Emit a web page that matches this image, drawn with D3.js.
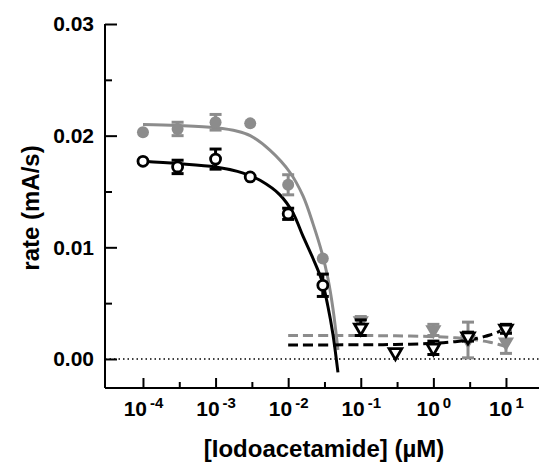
<!DOCTYPE html>
<html><head><meta charset="utf-8">
<script src="https://cdn.jsdelivr.net/npm/d3@7"></script>
<style>
html,body{margin:0;padding:0;background:#fff;}
text{font-family:"Liberation Sans",Arial,sans-serif;font-weight:bold;}
</style></head>
<body><svg id="c" width="539" height="462"></svg>
<script>
// ---- data ----
const circleX = [1e-4, 3e-4, 1e-3, 3e-3, 1e-2, 3e-2];
const grayCircleY = [0.0203, 0.0206, 0.0212, 0.0211, 0.0156, 0.0090];
const grayCircleErr = [0, 0.0006, 0.0007, 0, 0.0009, 0];
const blackCircleY = [0.0177, 0.0172, 0.0179, 0.0163, 0.0130, 0.0066];
const blackCircleErr = [0, 0.0006, 0.0009, 0, 0.0005, 0.0010];

const blackTriX = [0.1, 0.3, 1, 3, 10];
const blackTriY = [0.0028, 0.0006, 0.0010, 0.0020, 0.0027];
const blackTriErr = [0.0007, 0, 0.0006, 0.0004, 0.0004];
const grayTriX = [0.1, 1, 3, 10];
const grayTriY = [0.0034, 0.0026, 0.0017, 0.0015];
const grayTriErr = [0.0004, 0.0005, 0.0016, 0.0010];

const grayCurveX = [1e-4, 3e-4, 1e-3, 2e-3, 3e-3, 0.0056, 0.0106, 0.016, 0.022, 0.0292, 0.0353, 0.0414, 0.0485];
const grayCurveY = [0.0210, 0.0209, 0.0207, 0.0204, 0.0200, 0.0187, 0.0167, 0.0146, 0.0121, 0.0095, 0.0072, 0.0045, 0.0008];
const blackCurveX = [1e-4, 3e-4, 1e-3, 2e-3, 3e-3, 0.0041, 0.0077, 0.0116, 0.016, 0.022, 0.0292, 0.0353, 0.0414, 0.0485];
const blackCurveY = [0.0177, 0.0175, 0.0172, 0.0168, 0.0164, 0.0160, 0.0147, 0.0131, 0.0110, 0.0090, 0.0070, 0.0047, 0.0022, -0.0012];

const dashX = [0.01, 0.1, 0.3, 1, 2, 3, 4, 5, 6, 7, 8, 9, 10];
const blackDashY = [0.00125, 0.00127, 0.0013, 0.0014, 0.00155, 0.0017, 0.00185, 0.002, 0.00215, 0.0023, 0.00245, 0.0026, 0.00275];
const grayDashY = [0.0021, 0.0021, 0.00207, 0.002, 0.0019, 0.0018, 0.0017, 0.0016, 0.0015, 0.0014, 0.0013, 0.0012, 0.0011];

const yTicks = [0, 0.01, 0.02, 0.03];
const yTickLabels = ["0.00", "0.01", "0.02", "0.03"];
const yMinorTicks = [0.005, 0.015, 0.025];
const xTicks = [1e-4, 1e-3, 1e-2, 1e-1, 1, 10];
const xTickExp = ["-4", "-3", "-2", "-1", "0", "1"];
const xMinorTicks = [10**-3.5, 10**-2.5, 10**-1.5, 10**-0.5, 10**0.5];

const xLabel = "[Iodoacetamide] (µM)";
const yLabel = "rate (mA/s)";

// ---- drawing ----
const GRAY = "#8c8c8c";
const svg = d3.select("#c");
const x = d3.scaleLog().domain([10**-4.523, 10**1.455]).range([105, 539]);
const y = d3.scaleLinear().domain([-0.0026, 0.03]).range([388, 24]);

// zero dotted line
svg.append("line").attr("x1", x.range()[0]).attr("x2", x.range()[1])
  .attr("y1", y(0)).attr("y2", y(0))
  .attr("stroke", "#000").attr("stroke-width", 1.5).attr("stroke-dasharray", "1.5,3");

// axes
const yAxis = svg.append("g").attr("transform", `translate(${x.range()[0]},0)`)
  .call(d3.axisLeft(y).tickValues(yTicks).tickFormat((d, i) => yTickLabels[i]).tickSize(-12).tickPadding(11));
const yMinor = svg.append("g").attr("transform", `translate(${x.range()[0]},0)`)
  .call(d3.axisLeft(y).tickValues(yMinorTicks).tickFormat("").tickSize(-7));
const xAxis = svg.append("g").attr("transform", `translate(0,${y.range()[0]})`)
  .call(d3.axisBottom(x).tickValues(xTicks).tickFormat("").tickSize(-10));
const xMinor = svg.append("g").attr("transform", `translate(0,${y.range()[0]})`)
  .call(d3.axisBottom(x).tickValues(xMinorTicks).tickFormat("").tickSize(-6));
[yAxis, yMinor, xAxis, xMinor].forEach(g => {
  g.select(".domain").attr("stroke-width", 2);
  g.selectAll(".tick line").attr("stroke-width", 2);
});
xMinor.select(".domain").remove();
yMinor.select(".domain").remove();
yAxis.select(".domain").attr("d", `M0,${y.range()[0]}V${y.range()[1]}`);
xAxis.select(".domain").attr("d", `M${x.range()[0]},0H${x.range()[1]}`);
yAxis.selectAll(".tick text").attr("font-size", 21).attr("font-weight", "bold").attr("fill", "#000")
  .attr("font-family", '"Liberation Sans",Arial,sans-serif');

xAxis.selectAll(".tick").each(function(d, i) {
  const t = d3.select(this).append("text").attr("y", 28).attr("text-anchor", "middle")
    .attr("fill", "#000").attr("font-size", 21);
  t.append("tspan").text("10");
  t.append("tspan").attr("font-size", 15).attr("dy", -8).attr("dx", 3).text(xTickExp[i]);
});

svg.append("text").attr("x", 324).attr("y", 457).attr("text-anchor", "middle")
  .attr("font-size", 24).text(xLabel);
svg.append("text").attr("transform", "translate(39,208) rotate(-90)").attr("text-anchor", "middle")
  .attr("font-size", 24).text(yLabel);

// fit curves
const line = d3.line().x(d => x(d[0])).y(d => y(d[1])).curve(d3.curveCatmullRom.alpha(0.5));
svg.append("path").attr("d", line(d3.zip(grayCurveX, grayCurveY)))
  .attr("fill", "none").attr("stroke", GRAY).attr("stroke-width", 3);
svg.append("path").attr("d", line(d3.zip(dashX, grayDashY)))
  .attr("fill", "none").attr("stroke", GRAY).attr("stroke-width", 3).attr("stroke-dasharray", "10,5");
svg.append("path").attr("d", line(d3.zip(blackCurveX, blackCurveY)))
  .attr("fill", "none").attr("stroke", "#000").attr("stroke-width", 3);
svg.append("path").attr("d", line(d3.zip(dashX, blackDashY)))
  .attr("fill", "none").attr("stroke", "#000").attr("stroke-width", 3).attr("stroke-dasharray", "10,5");

function errBars(xs, ys, es, color) {
  const g = svg.append("g").attr("stroke", color).attr("stroke-width", 3);
  xs.forEach((xv, i) => {
    if (!es[i]) return;
    const cx = x(xv), y1 = y(ys[i] + es[i]), y2 = y(ys[i] - es[i]);
    g.append("line").attr("x1", cx).attr("x2", cx).attr("y1", y1).attr("y2", y2);
    g.append("line").attr("x1", cx - 6).attr("x2", cx + 6).attr("y1", y1).attr("y2", y1);
    g.append("line").attr("x1", cx - 6).attr("x2", cx + 6).attr("y1", y2).attr("y2", y2);
  });
}
const tri = d3.symbol().type(d3.symbolTriangle).size(70);

// gray series
errBars(circleX, grayCircleY, grayCircleErr, GRAY);
svg.append("g").selectAll("circle").data(d3.zip(circleX, grayCircleY)).join("circle")
  .attr("cx", d => x(d[0])).attr("cy", d => y(d[1])).attr("r", 6).attr("fill", GRAY);
errBars(grayTriX, grayTriY, grayTriErr, GRAY);
svg.append("g").selectAll("path").data(d3.zip(grayTriX, grayTriY)).join("path")
  .attr("d", tri).attr("transform", d => `translate(${x(d[0])},${y(d[1])}) rotate(180)`)
  .attr("fill", GRAY).attr("stroke", GRAY).attr("stroke-width", 2);

// black series
errBars(circleX, blackCircleY, blackCircleErr, "#000");
svg.append("g").selectAll("circle").data(d3.zip(circleX, blackCircleY)).join("circle")
  .attr("cx", d => x(d[0])).attr("cy", d => y(d[1])).attr("r", 5)
  .attr("fill", "#fff").attr("stroke", "#000").attr("stroke-width", 2.8);
errBars(blackTriX, blackTriY, blackTriErr, "#000");
svg.append("g").selectAll("path").data(d3.zip(blackTriX, blackTriY)).join("path")
  .attr("d", tri).attr("transform", d => `translate(${x(d[0])},${y(d[1])}) rotate(180)`)
  .attr("fill", "#fff").attr("stroke", "#000").attr("stroke-width", 2.8);
</script></body></html>
